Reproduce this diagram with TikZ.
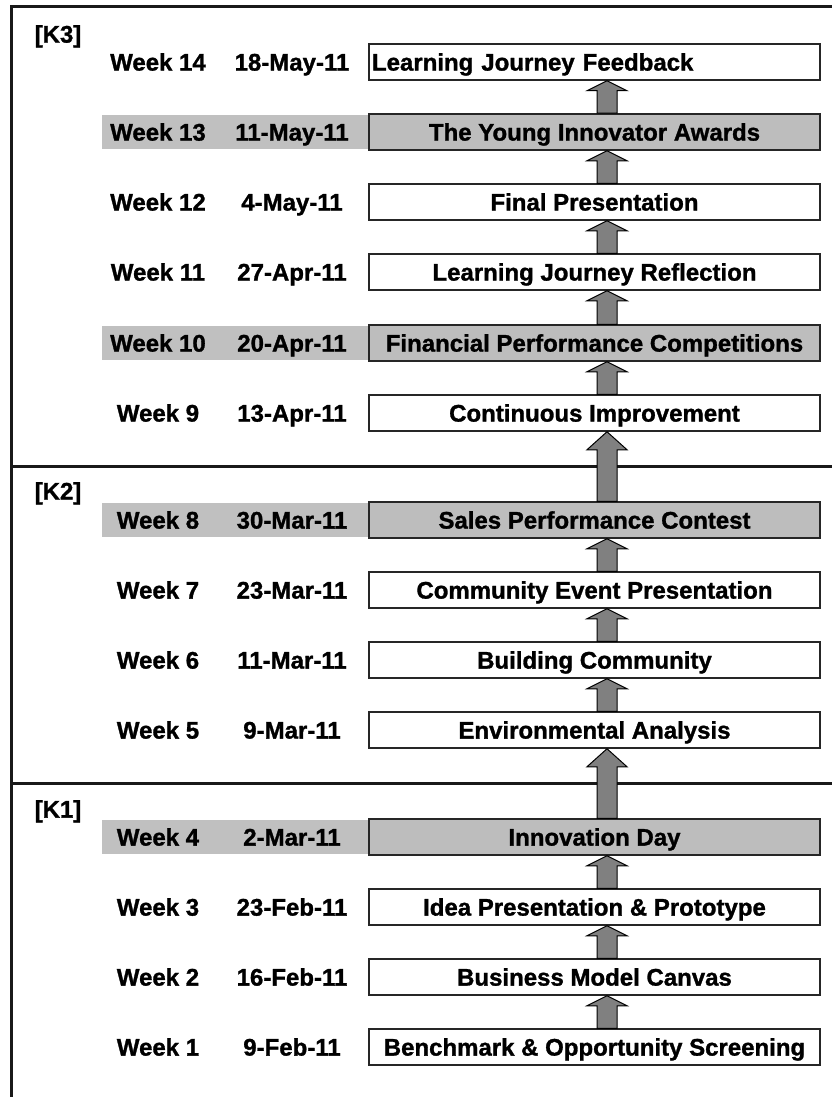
\documentclass[tikz,border=0pt]{standalone}
\usepackage{fontspec}
\setmainfont{Liberation Sans}[BoldFeatures={FakeBold=1.2}]
\usetikzlibrary{calc}
\definecolor{bandgray}{HTML}{C0C0C0}
\definecolor{boxgray}{HTML}{BDBDBD}
\definecolor{arrgray}{HTML}{808080}
\newcommand\myrow[6]{%
  \node[lbl] (wk#1) at (158,#2) {#3};
  \node[lbl] (dt#1) at (292,#2) {#4};
  \node[#5] (bx#1) at (594.5,#2) {#6};}
\newcommand\myband[1]{\fill[bandgray] (102,{#1-17}) rectangle (369,{#1+17});}
\newcommand\myarr[3]{%
  \draw[uparr] let \p0=(607,0), \p1=(bx#1.north), \p2=(bx#2.south) in
    (\x0-10pt,\y1) -- (\x0-10pt,\y2-#3pt) -- (\x0-20pt,\y2-#3pt) -- (\x0,\y2)
    -- (\x0+20pt,\y2-#3pt) -- (\x0+10pt,\y2-#3pt) -- (\x0+10pt,\y1) -- cycle;}
\begin{document}
\begin{tikzpicture}[x=1pt,y=-1pt,
  lbl/.style={font=\fontsize{24}{28}\selectfont\bfseries, text height=17.2pt, text depth=0pt, inner sep=0pt},
  evbox/.style={lbl, draw=black!85, line width=1.5pt, minimum width=451pt, minimum height=36pt, fill=white},
  hlbox/.style={evbox, fill=boxgray},
  leftbox/.style={evbox, text width=445pt, align=left, inner xsep=3pt},
  uparr/.style={fill=arrgray, draw=black, line width=1pt, line join=miter},
  frame/.style={line width=3pt, draw=black!90}]
\useasboundingbox (0,0) rectangle (832,1097);
\fill[white] (0,0) rectangle (832,1097);
% frame and dividers
\draw[frame] (832,7) -- (11,7) -- (11,1097);
\draw[frame] (11,466) -- (832,466);
\draw[frame] (11,783) -- (832,783);
% section labels
\node[lbl] (k3) at (58,34) {[K3]};
\node[lbl] (k2) at (58,491) {[K2]};
\node[lbl] (k1) at (58,809) {[K1]};
% highlight bands
\myband{132}
\myband{343}
\myband{520}
\myband{837}
% rows
\myrow{14}{62}{Week 14}{18-May-11}{leftbox}{Learning Journey Feedback}
\myrow{13}{132}{Week 13}{11-May-11}{hlbox}{The Young Innovator Awards}
\myrow{12}{202}{Week 12}{4-May-11}{evbox}{Final Presentation}
\myrow{11}{272}{Week 11}{27-Apr-11}{evbox}{Learning Journey Reflection}
\myrow{10}{343}{Week 10}{20-Apr-11}{hlbox}{Financial Performance Competitions}
\myrow{9}{413}{Week 9}{13-Apr-11}{evbox}{Continuous Improvement}
\myrow{8}{520}{Week 8}{30-Mar-11}{hlbox}{Sales Performance Contest}
\myrow{7}{590}{Week 7}{23-Mar-11}{evbox}{Community Event Presentation}
\myrow{6}{660}{Week 6}{11-Mar-11}{evbox}{Building Community}
\myrow{5}{730}{Week 5}{9-Mar-11}{evbox}{Environmental Analysis}
\myrow{4}{837}{Week 4}{2-Mar-11}{hlbox}{Innovation Day}
\myrow{3}{907}{Week 3}{23-Feb-11}{evbox}{Idea Presentation \& Prototype}
\myrow{2}{977}{Week 2}{16-Feb-11}{evbox}{Business Model Canvas}
\myrow{1}{1047}{Week 1}{9-Feb-11}{evbox}{Benchmark \& Opportunity Screening}
% arrows
\myarr{1}{2}{10}
\myarr{2}{3}{10}
\myarr{3}{4}{10}
\myarr{4}{5}{18}
\myarr{5}{6}{10}
\myarr{6}{7}{10}
\myarr{7}{8}{10}
\myarr{8}{9}{18}
\myarr{9}{10}{10}
\myarr{10}{11}{10}
\myarr{11}{12}{10}
\myarr{12}{13}{10}
\myarr{13}{14}{10}
\end{tikzpicture}
\end{document}
